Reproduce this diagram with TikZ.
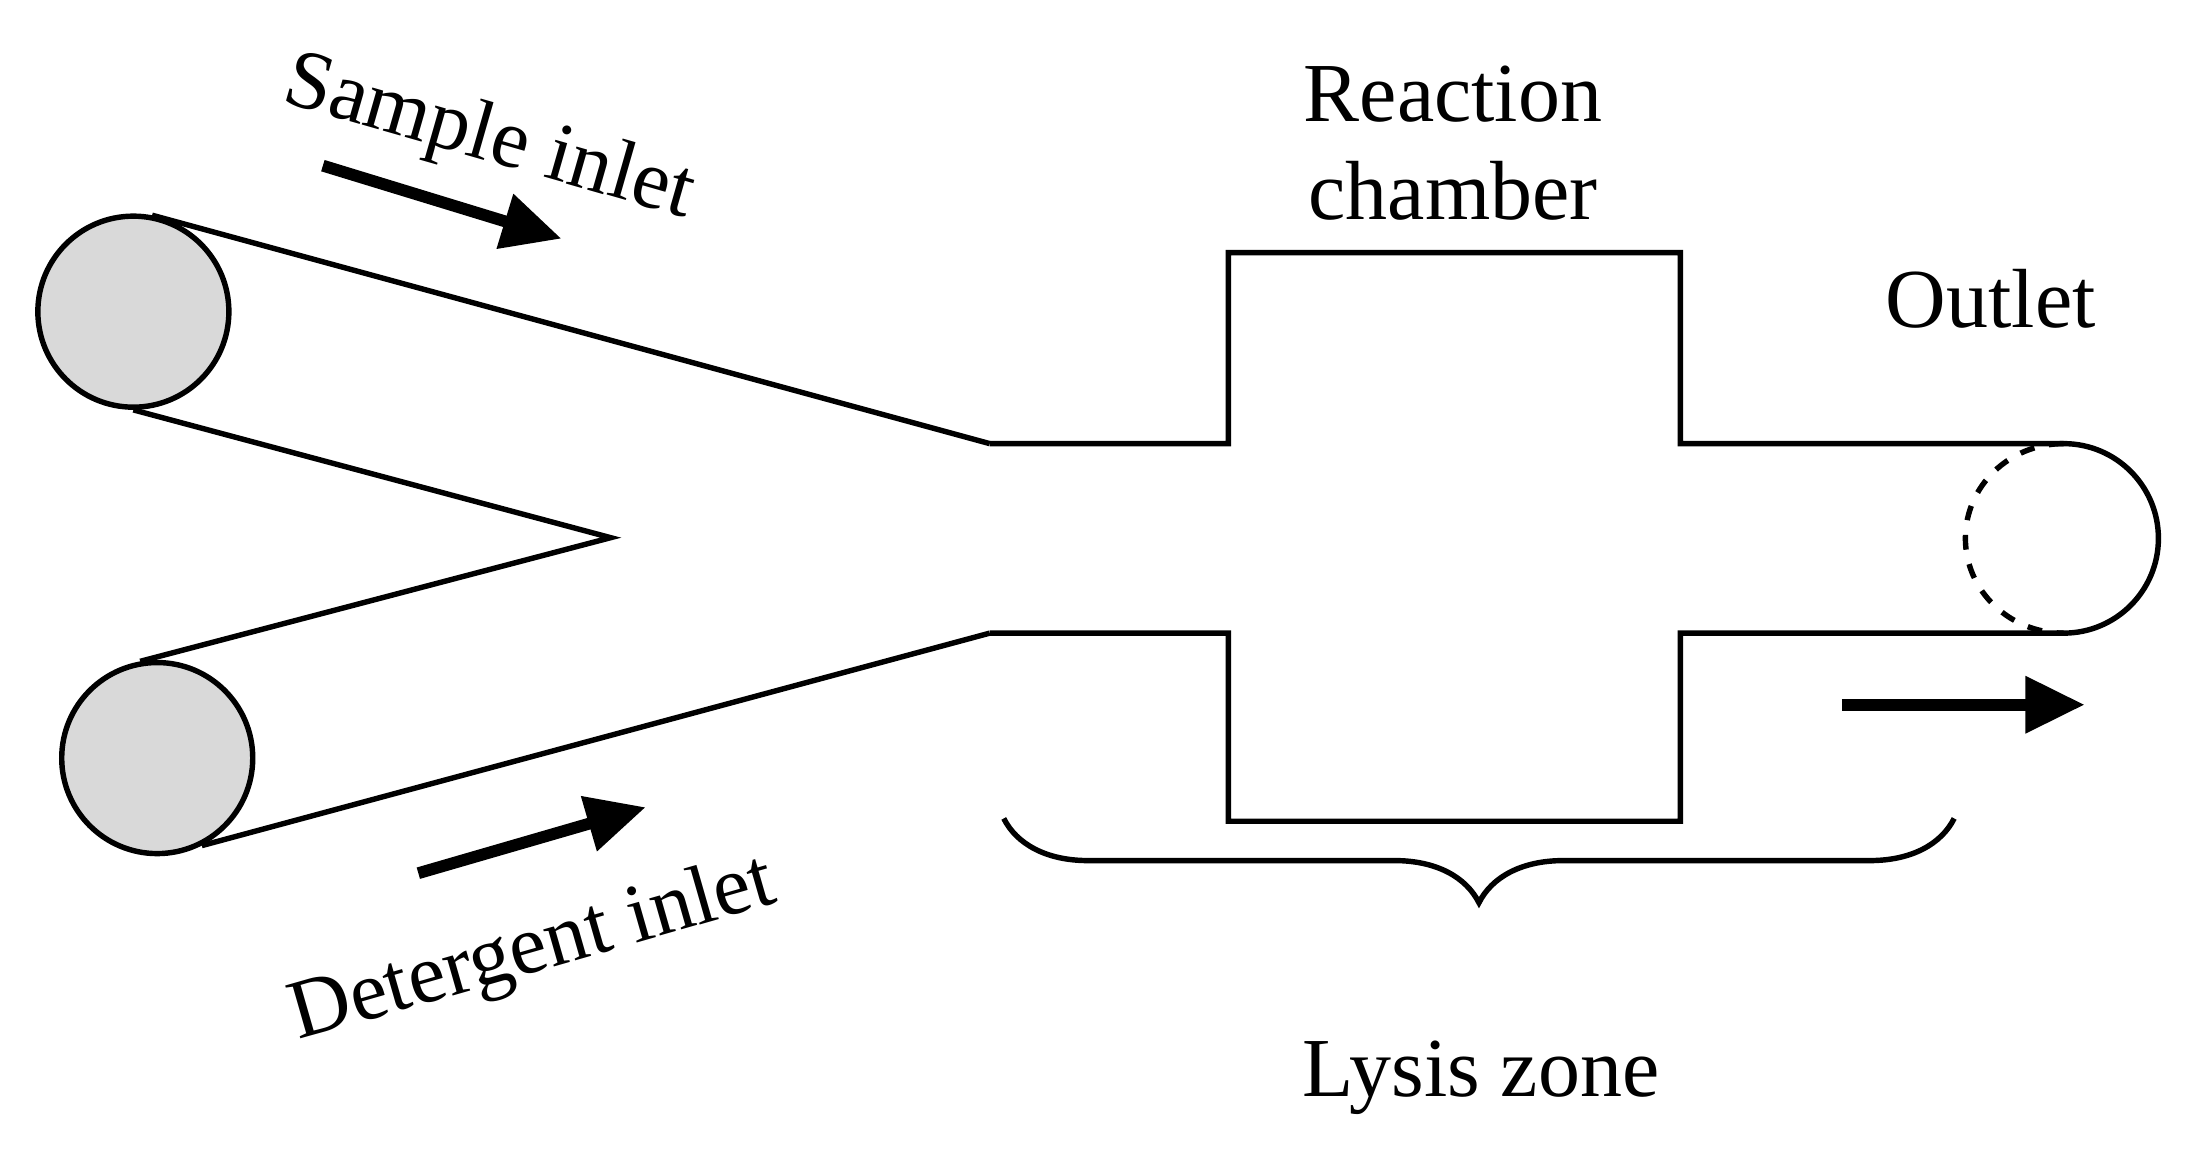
\documentclass[tikz,border=0pt]{standalone}
\usepackage{fontspec}
\setmainfont{Liberation Serif}
\usetikzlibrary{positioning,arrows.meta,decorations.pathreplacing}

\begin{document}
\begin{tikzpicture}[x=0.01cm, y=-0.01cm,
    wall/.style={line width=1.1pt, line join=miter},
    port/.style={circle, draw, line width=1.1pt, fill=gray!30, minimum size=1.36cm, inner sep=0pt},
    flow/.style={line width=2.4pt, -{Triangle[length=12pt, width=11pt]}},
    label/.style={font=\fontsize{17}{20}\selectfont, align=center}
]
\useasboundingbox (0,0) rectangle (1560,824);

% Inlet ports
\node[port] (inS) at (95,222) {};
\node[port] (inD) at (112,540) {};

% Channel corners
\coordinate (tip) at (435,383);
\coordinate (jT) at (705,316);
\coordinate (jB) at (705,451);
\coordinate (oT) at (1470,316);
\coordinate (oB) at (1470,451);

% Inlet channels
\draw[wall] (inS.79) -- (jT);
\draw[wall] (inS.270) -- (tip) -- (inD.100);
\draw[wall] (inD.-63) -- (jB);

% Main channel with reaction chamber
\draw[wall] (jT) -- (875,316) -- (875,180) -- (1197,180) -- (1197,316) -- (oT)
    arc[start angle=-90, end angle=90, radius=67.5] -- (1197,451) -- (1197,585)
    -- (875,585) -- (875,451) -- (jB);
\draw[wall, dashed] (oT) arc[start angle=-90, end angle=-270, x radius=70, y radius=67.5];

% Flow arrows
\coordinate (sA) at (230,118);
\coordinate (sB) at (400,170);
\coordinate (dA) at (298,622);
\coordinate (dB) at (460,575);
\coordinate (oA) at (1312,502);
\coordinate (oC) at (1485,502);
\draw[flow] (sA) -- (sB);
\draw[flow] (dA) -- (dB);
\draw[flow] (oA) -- (oC);

% Lysis zone brace
\coordinate (bL) at (715,583);
\coordinate (bR) at (1392,583);
\draw[wall, decorate, decoration={brace, mirror, amplitude=0.6cm}] (bL) -- (bR);

% Labels
\node[label, rotate=-16] (lS) at (348,100) {Sample inlet};
\node[label, rotate=16] (lD) at (380,678) {Detergent inlet};
\node[label] (lR) at (1035,102) {Reaction\\chamber};
\node[label] (lO) at (1418,213) {Outlet};
\node[label] (lL) at (1055,768) {Lysis zone};

\end{tikzpicture}
\end{document}
